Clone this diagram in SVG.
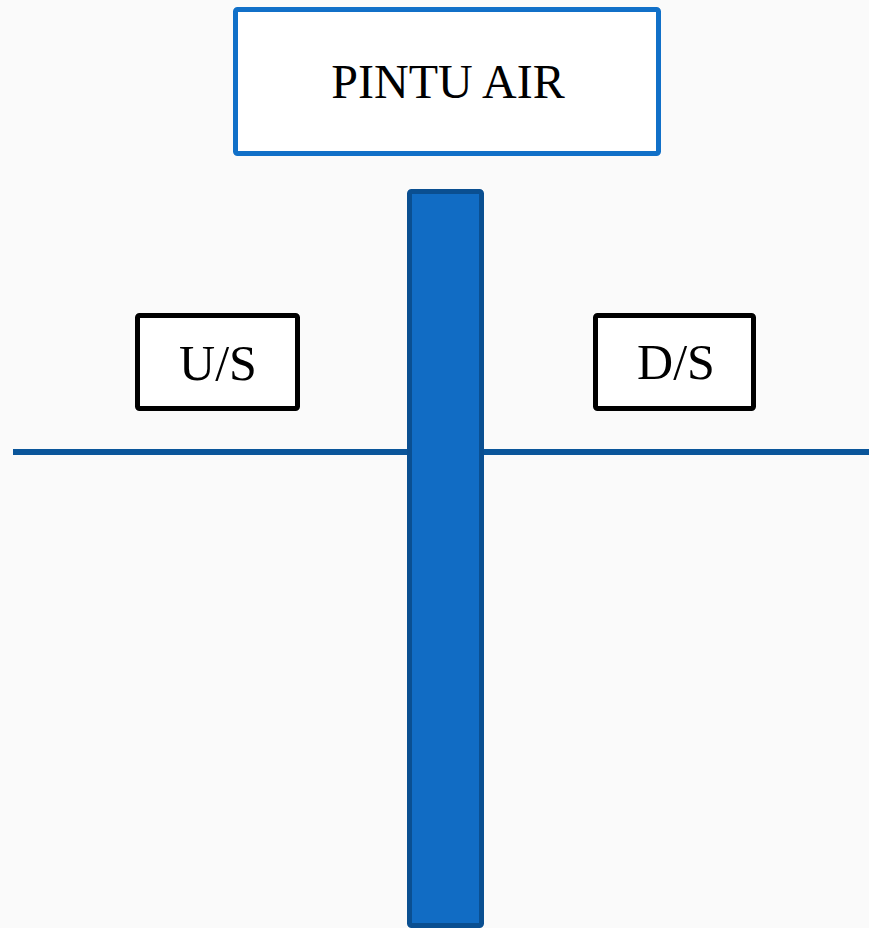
<svg xmlns="http://www.w3.org/2000/svg" width="869" height="928" viewBox="0 0 869 928">
<style>
.lbl{font-family:"Liberation Serif","Times New Roman",serif;fill:#000;text-anchor:middle}
.box{fill:#fff;stroke:#000;stroke-width:5}
</style>
<rect x="0" y="0" width="869" height="928" fill="#fafafa"/>
<g id="connectors">
<line x1="13" y1="452" x2="869" y2="452" stroke="#0a559a" stroke-width="6"/>
</g>
<g id="gate">
<rect x="409.5" y="191.5" width="72" height="734" rx="2" fill="#116cc4" stroke="#0a4f91" stroke-width="5"/>
</g>
<g id="pintu-air">
<rect x="235.5" y="9.5" width="423" height="144" rx="2" fill="#fff" stroke="#1170c8" stroke-width="5"/>
<text class="lbl" x="448" y="98" font-size="48">PINTU AIR</text>
</g>
<g id="us">
<rect class="box" x="137.5" y="315.5" width="160" height="93" rx="2"/>
<text class="lbl" x="218" y="380" font-size="50">U/S</text>
</g>
<g id="ds">
<rect class="box" x="595.5" y="315.5" width="158" height="93" rx="2"/>
<text class="lbl" x="676" y="379" font-size="50">D/S</text>
</g>
</svg>
